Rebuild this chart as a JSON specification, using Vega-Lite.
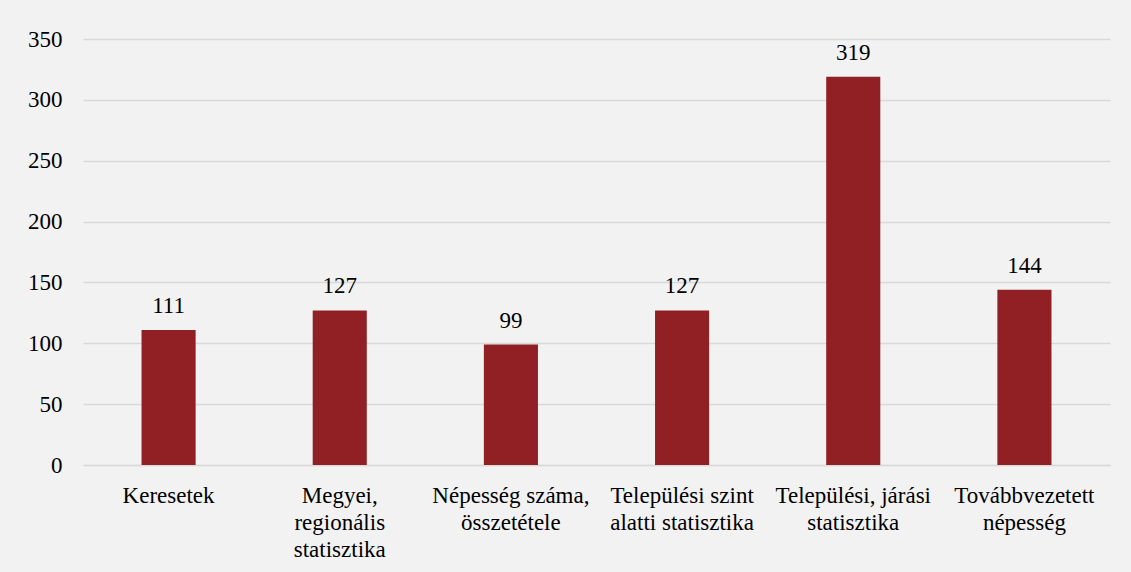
{
  "$schema": "https://vega.github.io/schema/vega-lite/v6.json",
  "width": 1027,
  "height": 426,
  "autosize": {"type": "none"},
  "padding": {"left": 83, "top": 39, "right": 21, "bottom": 107},
  "background": "#f2f2f2",
  "data": {
    "values": [
      {"kategoria": "Keresetek", "ertek": 111},
      {"kategoria": "Megyei,\nregionális\nstatisztika", "ertek": 127},
      {"kategoria": "Népesség száma,\nösszetétele", "ertek": 99},
      {"kategoria": "Települési szint\nalatti statisztika", "ertek": 127},
      {"kategoria": "Települési, járási\nstatisztika", "ertek": 319},
      {"kategoria": "Továbbvezetett\nnépesség", "ertek": 144}
    ]
  },
  "encoding": {
    "x": {
      "field": "kategoria",
      "type": "nominal",
      "sort": null,
      "scale": {"paddingInner": 0.684, "paddingOuter": 0.342},
      "axis": {
        "title": null,
        "labelAngle": 0,
        "ticks": false,
        "domain": true,
        "domainColor": "#d9d9d9",
        "domainWidth": 1.5,
        "labelPadding": 19,
        "labelFont": "'Liberation Serif', 'Times New Roman', serif",
        "labelFontSize": 23,
        "labelColor": "#000000",
        "labelLineHeight": 27,
        "labelExpr": "split(datum.value, '\\n')"
      }
    },
    "y": {
      "field": "ertek",
      "type": "quantitative",
      "scale": {"domain": [0, 350]},
      "axis": {
        "title": null,
        "values": [0, 50, 100, 150, 200, 250, 300, 350],
        "ticks": false,
        "domain": false,
        "grid": true,
        "gridColor": "#d9d9d9",
        "gridWidth": 1.5,
        "labelPadding": 21,
        "labelFont": "'Liberation Serif', 'Times New Roman', serif",
        "labelFontSize": 23,
        "labelColor": "#000000"
      }
    }
  },
  "layer": [
    {"mark": {"type": "bar", "color": "#912024"}},
    {
      "mark": {
        "type": "text",
        "baseline": "alphabetic",
        "dy": -17,
        "font": "'Liberation Serif', 'Times New Roman', serif",
        "fontSize": 23,
        "color": "#000000"
      },
      "encoding": {"text": {"field": "ertek", "type": "quantitative"}}
    }
  ],
  "config": {"view": {"stroke": null}}
}
